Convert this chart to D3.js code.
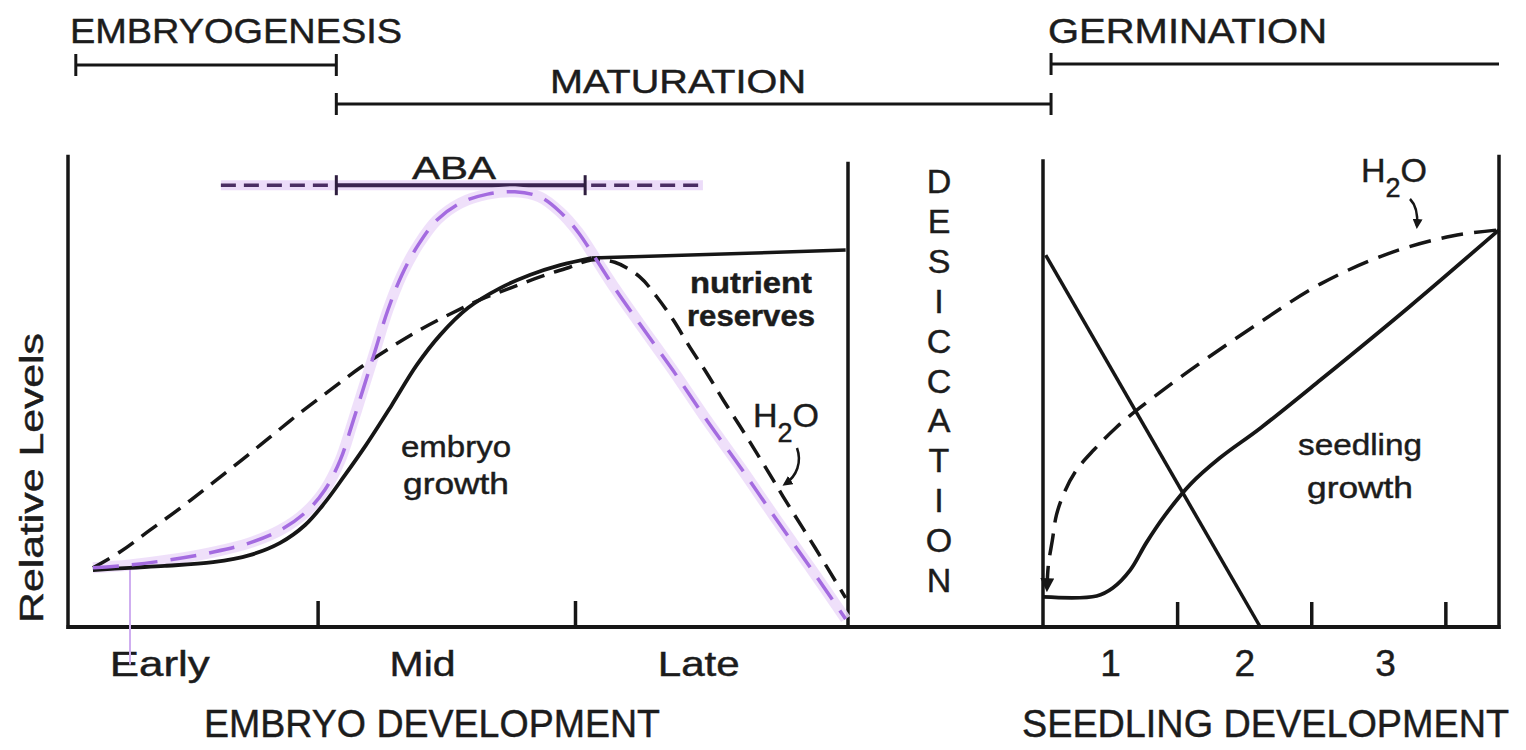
<!DOCTYPE html>
<html>
<head>
<meta charset="utf-8">
<script src="https://cdn.jsdelivr.net/npm/d3@7"></script>
<style>
html, body { margin: 0; padding: 0; background: #fff; }
svg { display: block; }
text { font-family: "Liberation Sans", Arial, sans-serif; fill: #1c1c1c; stroke: #1c1c1c; stroke-width: 0.45; }
</style>
</head>
<body>
<svg id="chart" width="1526" height="750"></svg>
<script>
/** DATA **/
var phaseNames = ['EMBRYOGENESIS', 'MATURATION', 'GERMINATION'];
var stageLabels = ['Early', 'Mid', 'Late'];
var stageLabelAt = [11.7, 45.4, 80.8];
var stageTicks = [32, 65];
var dayLabels = ['1', '2', '3'];
var dayLabelAt = [0.5, 1.5, 2.55];
var dayTicks = [1, 2, 3];
var abaPeriod = [34.4, 66.3];
var abaFringe = [19.6, 81.4];
var abaLevel = 94;

// embryo development panel (x = % of development, y = relative level)
var embryoGrowth = [[3.2,12.1],[7.9,12.6],[12.4,13.0],[18.6,13.8],[23.3,15.3],[27.2,17.9],
  [30.4,21.7],[32.9,26.4],[35.5,32.3],[38.2,38.7],[41.5,47.2],[44.7,55.7],[47.7,62.1],
  [51.3,67.9],[55.4,72.1],[59.2,74.9],[63.1,77.0],[67.1,78.5]];
var nutrientReserves = [[67.1,78.5],[99.7,80.2]];
var embryoWater = [[3.2,12.6],[6.7,16.0],[10.5,20.6],[14.4,25.3],[18.2,30.2],[22.1,35.3],
  [25.9,40.4],[29.7,45.5],[33.6,50.4],[37.4,55.1],[41.3,59.4],[45.1,63.2],[49.0,66.6],
  [52.8,69.6],[56.7,72.1],[60.5,74.5],[64.4,76.6],[67.1,78.1],[70.1,77.6],[73.3,74.5],
  [75.5,70.2],[77.6,65.3],[79.7,59.6],[81.9,54.0],[84.0,48.3],[86.2,42.6],[88.3,37.0],
  [90.4,31.3],[91.7,27.7],[95.8,16.8],[99.7,6.2]];
var abaLevels = [[3.2,12.6],[7.9,13.2],[13.1,14.3],[18.8,16.0],[23.3,17.9],[27.2,20.6],
  [30.4,24.3],[32.9,29.1],[34.9,35.5],[36.4,43.0],[37.8,50.4],[39.4,58.9],[41.0,67.4],
  [42.8,74.9],[44.9,81.3],[47.3,86.6],[50.3,90.2],[53.8,92.1],[57.3,92.6],[60.5,91.5],
  [63.1,88.3],[65.4,84.0],[67.6,78.5],[70.1,72.1],[73.3,64.5],[77.6,54.5],[81.9,44.0],
  [86.2,34.0],[90.6,23.4],[95.1,12.8],[99.7,1.7]];

// seedling development panel (x = days)
var seedReserves = [[0.02,79.1],[1.62,0]];
var seedlingGrowth = [[0,6.4],[0.40,6.6],[0.52,8.3],[0.65,12.1],[0.77,17.9],[0.91,23.8],
  [1.10,30.4],[1.32,36.0],[1.62,42.3],[2.07,52.6],[2.73,68.1],[3.40,84.5]];
var seedlingWater = [[0.03,8.3],[0.04,13.2],[0.07,18.5],[0.10,23.8],[0.16,28.7],[0.25,33.4],
  [0.38,37.7],[0.54,42.3],[0.72,46.6],[1.10,54.7],[1.59,64.3],[2.07,73.0],[2.57,79.4],
  [3.05,83.2],[3.40,84.5]];

/** SCALES **/
var svg = d3.select('#chart');
var ink = '#161616';
var xE = d3.scaleLinear().domain([0, 100]).range([68, 848]);
var xS = d3.scaleLinear().domain([0, 3.4]).range([1043, 1499]);
var yV = d3.scaleLinear().domain([0, 100]).range([627, 157]);

var lineE = d3.line().x(function(d){ return xE(d[0]); }).y(function(d){ return yV(d[1]); })
  .curve(d3.curveCatmullRom.alpha(0.5));
var lineS = d3.line().x(function(d){ return xS(d[0]); }).y(function(d){ return yV(d[1]); })
  .curve(d3.curveCatmullRom.alpha(0.5));

var defs = svg.append('defs');
defs.append('marker').attr('id', 'arrow')
  .attr('viewBox', '0 0 10 10').attr('refX', 7).attr('refY', 5)
  .attr('markerWidth', 4).attr('markerHeight', 4).attr('orient', 'auto-start-reverse')
  .append('path').attr('d', 'M0,0 L10,5 L0,10 z').attr('fill', ink);

function seg(x1, y1, x2, y2, w, col) {
  return svg.append('line').attr('x1', x1).attr('y1', y1).attr('x2', x2).attr('y2', y2)
    .attr('stroke', col || ink).attr('stroke-width', w || 3.5).attr('stroke-linecap', 'butt');
}

function label(txt, x, y, size, len, anchor) {
  var t = svg.append('text').attr('x', x).attr('y', y).attr('font-size', size)
    .attr('text-anchor', anchor || 'start').text(txt);
  if (len) t.attr('textLength', len).attr('lengthAdjust', 'spacingAndGlyphs');
  return t;
}

/** PHASE BRACKETS **/
var phaseBounds = [[xE(1), xE(34.4)], [xE(34.4), xS(0.06)], [xS(0.06), xS(3.4)]];
var phaseY = [65, 104, 64];
phaseBounds.forEach(function(b, i){
  seg(b[0], phaseY[i], b[1], phaseY[i], 3);
  seg(b[0], phaseY[i] - 11, b[0], phaseY[i] + 11, 3);
  if (i < 2) seg(b[1], phaseY[i] - 11, b[1], phaseY[i] + 11, 3);
});
label(phaseNames[0], 70, 43, 35, 332);
label(phaseNames[1], 550, 93, 34, 256);
label(phaseNames[2], 1048, 43, 35, 279);

/** FRAMES **/
seg(xE(0), yV(100.5), xE(0), yV(0) + 2);
seg(xE(100), yV(99), xE(100), yV(0));
seg(xS(0), yV(99.5), xS(0), yV(0));
seg(xS(3.4), yV(100.5), xS(3.4), yV(0) + 2);
seg(xE(0) - 1.5, yV(0), xS(3.4) + 1.5, yV(0), 4);

// ticks drawn with d3 axes, pointing up into the panels
svg.append('g').attr('transform', 'translate(0,' + yV(0) + ')')
  .call(d3.axisTop(xE).tickValues(stageTicks).tickSize(26).tickFormat(''))
  .call(function(g){ g.select('.domain').remove(); g.selectAll('line').attr('stroke', ink).attr('stroke-width', 3.5); });
svg.append('g').attr('transform', 'translate(0,' + yV(0) + ')')
  .call(d3.axisTop(xS).tickValues(dayTicks).tickSize(25).tickFormat(''))
  .call(function(g){ g.select('.domain').remove(); g.selectAll('line').attr('stroke', ink).attr('stroke-width', 3.5); });

// category labels under the axis
var stageLen = [100, 66, 82];
svg.append('g').attr('transform', 'translate(0,' + (yV(0) + 46) + ')')
  .call(d3.axisBottom(xE).tickValues(stageLabelAt).tickSize(0)
    .tickFormat(function(d, i){ return stageLabels[i]; }))
  .call(function(g){ g.select('.domain').remove();
    g.selectAll('text').attr('font-size', 35).attr('font-family', '"Liberation Sans", Arial, sans-serif')
      .attr('fill', '#1c1c1c').attr('dy', 0)
      .attr('textLength', function(d, i){ return stageLen[i]; }).attr('lengthAdjust', 'spacingAndGlyphs'); });
svg.append('g').attr('transform', 'translate(0,' + (yV(0) + 46) + ')')
  .call(d3.axisBottom(xS).tickValues(dayLabelAt).tickSize(0)
    .tickFormat(function(d, i){ return dayLabels[i]; }))
  .call(function(g){ g.select('.domain').remove();
    g.selectAll('text').attr('font-size', 37).attr('font-family', '"Liberation Sans", Arial, sans-serif')
      .attr('fill', '#1c1c1c').attr('dy', 0); });

label('EMBRYO DEVELOPMENT', 204, 737, 39, 456);
label('SEEDLING DEVELOPMENT', 1022, 737, 39, 487);
label('Relative Levels', 0, 0, 33, 290, 'middle')
  .attr('transform', 'translate(43,478) rotate(-90)');

/** ABA bar **/
var yAba = yV(abaLevel);
seg(xE(abaFringe[0]), yAba, xE(abaFringe[1]), yAba, 10, '#ead8f8').attr('stroke-opacity', 0.9);
seg(xE(abaFringe[0]), yAba, xE(abaPeriod[0]), yAba, 3.5, '#4a2d63').attr('stroke-dasharray', '15,8');
seg(xE(abaPeriod[1]) + 6, yAba, xE(abaFringe[1]), yAba, 3.5, '#4a2d63').attr('stroke-dasharray', '15,8');
seg(xE(abaPeriod[0]), yAba, xE(abaPeriod[1]), yAba, 4, '#3a2350');
abaPeriod.forEach(function(v){ seg(xE(v), yAba - 10, xE(v), yAba + 10, 3, '#2e1d3f'); });
label('ABA', 412, 179, 31, 84);

/** CURVES - embryo panel **/
svg.append('path').datum(abaLevels).attr('d', lineE).attr('fill', 'none')
  .attr('stroke', '#ecdbf9').attr('stroke-width', 11).attr('stroke-linejoin', 'round').attr('stroke-opacity', 0.85);
seg(130, yV(12.8), 130, yV(-8), 2, '#cfaef0');

svg.append('path').datum(embryoGrowth).attr('d', lineE).attr('fill', 'none')
  .attr('stroke', ink).attr('stroke-width', 3.8);
svg.append('path').datum(nutrientReserves).attr('d', lineE).attr('fill', 'none')
  .attr('stroke', ink).attr('stroke-width', 3.5);
svg.append('path').datum(embryoWater).attr('d', lineE).attr('fill', 'none')
  .attr('stroke', ink).attr('stroke-width', 3.5).attr('stroke-dasharray', '19,10');
svg.append('path').datum(abaLevels).attr('d', lineE).attr('fill', 'none')
  .attr('stroke', '#a46be0').attr('stroke-width', 3.5).attr('stroke-dasharray', '26,13');

/** CURVES - seedling panel **/
svg.append('path').datum(seedReserves).attr('d', lineS).attr('fill', 'none')
  .attr('stroke', ink).attr('stroke-width', 3.5);
svg.append('path').datum(seedlingGrowth).attr('d', lineS).attr('fill', 'none')
  .attr('stroke', ink).attr('stroke-width', 3.8);
svg.append('path').datum(seedlingWater).attr('d', lineS).attr('fill', 'none')
  .attr('stroke', ink).attr('stroke-width', 3.5).attr('stroke-dasharray', '22,11')
  .attr('marker-start', 'url(#arrow)');

/** ANNOTATIONS **/
var desic = 'DESICCATION'.split('');
var yLetter = d3.scalePoint().domain(d3.range(desic.length)).range([193, 592]);
svg.append('g').selectAll('text').data(desic).enter().append('text')
  .attr('x', 939).attr('y', function(d, i){ return yLetter(i); })
  .attr('text-anchor', 'middle').attr('font-size', 34).text(function(d){ return d; });

function water(x, y) {
  var t = svg.append('text').attr('x', x).attr('y', y).attr('font-size', 34);
  t.append('tspan').text('H');
  t.append('tspan').attr('dy', 15).attr('font-size', 27).text('2');
  t.append('tspan').attr('dy', -15).text('O');
}
water(753, 427);
water(1361, 182);
svg.append('path').attr('d', 'M797,448 C802,462 797,476 785,484').attr('fill', 'none')
  .attr('stroke', ink).attr('stroke-width', 2.5).attr('marker-end', 'url(#arrow)');
svg.append('path').attr('d', 'M1410,199 C1416,205 1418,214 1417,226').attr('fill', 'none')
  .attr('stroke', ink).attr('stroke-width', 2.5).attr('marker-end', 'url(#arrow)');

function note(lines, cx, ys, lens, bold) {
  lines.forEach(function(s, i){
    label(s, cx, ys[i], 29, lens[i], 'middle')
      .attr('font-weight', bold ? 'bold' : 'normal')
      .attr('stroke-width', bold ? 0.3 : 0.8);
  });
}
note(['embryo', 'growth'], 456, [457, 494], [110, 106], false);
note(['nutrient', 'reserves'], 751, [293, 326], [122, 128], true);
note(['seedling', 'growth'], 1360, [455, 498], [124, 106], false);
</script>
</body>
</html>
